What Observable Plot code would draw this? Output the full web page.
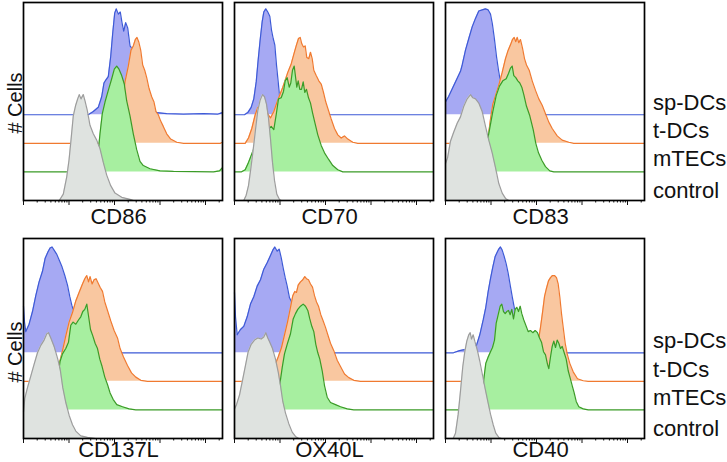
<!DOCTYPE html>
<html>
<head>
<meta charset="utf-8">
<script src="https://cdn.jsdelivr.net/npm/d3@7"></script>
<script src="https://cdn.jsdelivr.net/npm/@observablehq/plot@0.6"></script>
<style>
  html, body { margin: 0; padding: 0; background: #fff; }
  #chart { position: relative; width: 727px; height: 462px; overflow: hidden; background: #fff; }
  #chart svg { position: absolute; background: transparent; max-width: none; }
</style>
</head>
<body>
<div id="chart"></div>
<script>
// ---------- categories ----------
const markers = ["CD86", "CD70", "CD83", "CD137L", "OX40L", "CD40"];
const groups = ["sp-DCs", "t-DCs", "mTECs", "control"];
const offsets = [81, 54, 27, 0];          // baseline offset of each group (% of mode units)
const yLabel = "# Cells";

// ---------- axis ticks (channel units, 4-decade log display) ----------
const decade = 45.5;
const majorTicks = [0, 45.5, 91, 136.5, 182];
const minorFactors = [2, 3, 4, 5, 6, 7, 8, 9];

// ---------- histograms: [channel, % of mode] ----------
const cd86_sp = [[0,0],[64.8,0],[69.8,3],[74.8,7],[78.2,17],[80.5,30],[82.5,33],[84.8,36],[87.2,55],[89.2,77],[91.2,96],[92.8,100],[94.8,95],[96.8,97],[98.5,87],[100.2,79],[102.2,87],[104.2,82],[106.5,65],[109.2,62],[113.2,43],[118.2,22],[124.8,8],[133.2,2],[143.2,1],[160,0.5],[180,1],[194,0.5],[199,2]];
const cd86_t = [[0,0],[83.2,0],[89.8,3],[94.8,14],[98.2,32],[101.5,58],[104.8,73],[107.5,88],[109.8,92],[111.8,98],[113.5,100],[115.2,96],[117.2,88],[119.2,74],[121.2,69],[123.2,62],[125.5,52],[128.2,44],[130.5,39],[132.5,30],[134.8,27],[137.2,21],[139.8,16],[143.2,9],[147.2,4],[153.2,1],[160,0],[197,0],[199,1]];
const cd86_m = [[0,0],[71.5,0],[74.2,14],[76.5,36],[78.8,55],[81.5,66],[84.8,77],[88.2,88],[90.8,97],[93.2,100],[95.5,97],[98.2,91],[100.8,83],[103.2,67],[106.5,53],[109.8,36],[113.2,21],[116.5,10],[119.8,6],[126.5,3],[136.5,1],[150,0.5],[190,0],[196,1],[199,4]];
const cd86_c = [[35.8,0],[39.8,6],[43.2,22],[45.5,38],[47.5,57],[49.8,80],[52.2,90],[54.2,96],[55.8,100],[57.5,96],[59.8,100],[61.8,93],[63.8,85],[66.5,71],[69.8,63],[73.2,57],[76.5,49],[79.8,36],[83.2,24],[87.2,14],[91.5,7],[98.2,3],[106.5,1],[110,0]];

const cd70_sp = [[0,0],[10,0],[13.3,2],[16.7,7],[19.3,15],[21.7,31],[23.7,52],[25.7,71],[27.7,88],[29.3,97],[31.3,100],[33.3,97],[35.3,93],[37,80],[38.7,72],[40.3,66],[42,47],[43.7,31],[45.3,15],[47.3,3],[50,0],[199,0]];
const cd70_t = [[0,0],[10.7,0],[14,5],[17.3,14],[20.7,27],[23.3,34],[26.7,34],[31.7,30],[36,24],[39.3,30],[43.3,41],[48.3,53],[53.3,67],[56.7,75],[59.3,84],[61.7,92],[64,99],[65.7,100],[67.3,94],[69,91],[70.7,92],[72.3,81],[74.3,80],[76,86],[77.7,80],[79.3,69],[81.7,64],[84.3,59],[86.7,56],[89,48],[91.3,39],[94,31],[96.7,23],[100,14],[103.3,8],[106.7,5],[110,7],[113.3,4],[118.3,1],[123.3,0],[199,0]];
const cd70_m = [[0,0],[6.7,0],[10.7,2],[14,9],[17.3,17],[21.7,28],[26.7,35],[31.7,38],[36.7,43],[39.3,40],[41.7,54],[44,69],[46.7,70],[49,76],[50.7,86],[52.7,89],[54.7,80],[56.3,84],[58,96],[59.7,100],[61,90],[62.3,80],[63.7,86],[65.3,78],[67,78],[68.7,85],[70.3,75],[72,78],[74,70],[76,65],[78,56],[80,48],[83.3,35],[86.7,25],[90,18],[94,12],[98.3,6],[103.3,2],[108.3,0],[199,0]];
const cd70_c = [[9.3,0],[11.7,5],[14,14],[16.3,30],[18.7,48],[21,67],[23.3,85],[25.7,95],[28,100],[30,98],[32,91],[34,78],[36,58],[38,36],[40,19],[42.3,6],[45,1],[46.7,0]];

const cd83_sp = [[0,12],[3,17],[7,25],[11,33],[15,41],[16.7,47],[20,61],[23.3,72],[26.7,83],[30,91],[33.3,98],[36.7,99],[40,100],[42.7,99],[45,95],[47,85],[49,71],[51,55],[53,42],[55,31],[58.3,17],[62.3,6],[66.7,0],[199,0]];
const cd83_t = [[0,0],[40,0],[42.7,6],[45,23],[47.3,37],[50,45],[53.3,55],[56.7,67],[60,80],[62.7,88],[65,93],[67,98],[68.7,100],[70.3,96],[71.7,100],[73.3,95],[75,98],[77,90],[79,80],[81,74],[83.7,69],[86.7,59],[90,50],[93.3,42],[96.7,36],[100,28],[103.3,20],[106.7,14],[111.7,7],[116.7,3],[123.3,1],[128.3,0],[199,0]];
const cd83_m = [[0,0],[25,0],[31.7,2],[36.7,10],[40.7,23],[44,40],[47.3,57],[50.7,72],[54,81],[57.3,86],[60.7,88],[63,93],[65,98],[66.7,100],[68.3,91],[70.3,89],[72.3,86],[74.3,84],[76.3,80],[78.3,73],[81,62],[84.3,53],[87.7,40],[90.3,27],[93,18],[96.3,11],[100,5],[104.3,1],[108.3,0],[199,0]];
const cd83_c = [[0,35],[2,40],[5,56],[8,64],[11.7,73],[15,79],[18.3,89],[21.7,96],[25,100],[27.3,97],[30,96],[33.3,92],[36.7,84],[40,70],[43.3,57],[46.7,45],[50,31],[53.3,16],[56.7,7],[60,2],[63.3,0]];

const cd137l_sp = [[0,44],[1,29],[2.3,20],[5.6,27],[9,39],[12.3,54],[15.6,67],[19,77],[21.6,89],[24.3,95],[26.6,99],[28.6,100],[30.6,97],[33.3,93],[36,87],[38.6,81],[41.3,73],[44,64],[46.3,53],[48.3,45],[50.6,38],[54,29],[59,18],[64,8],[70.6,2],[77.3,0],[199,0]];
const cd137l_t = [[0,0],[32.3,0],[35.6,16],[39,29],[42.3,43],[45.6,56],[49,65],[52.3,76],[55.6,84],[59,92],[61.3,97],[63.3,100],[65,94],[66.6,99],[68.6,92],[70.6,96],[72.6,97],[74.6,93],[76.6,89],[79,85],[81.3,75],[84,67],[87.3,57],[90.6,48],[94,41],[96.6,31],[100,23],[104,15],[108,8],[112.3,4],[117.3,1],[124,0],[199,0]];
const cd137l_m = [[0,0],[24,0],[27.3,2],[30.6,11],[34,28],[36.6,46],[39,53],[42.3,58],[45,64],[47.3,80],[49.6,83],[52.3,81],[55,85],[57.3,88],[59.3,93],[61.3,95],[63.3,100],[65,89],[67,76],[69.3,70],[71.6,63],[74,58],[76.3,48],[78.6,41],[81.3,31],[84,24],[86.6,16],[89.6,10],[93.3,5],[99,3],[105.6,1],[112.3,0],[199,0]];
const cd137l_c = [[0,25],[1.3,38],[4,48],[7.3,59],[10.6,70],[14,81],[17.3,88],[20.6,93],[23.3,99],[25,100],[27.3,95],[30.6,87],[34,76],[36.6,66],[39.3,48],[42.3,34],[45.6,22],[49,13],[52.3,7],[57.3,2.5],[64,1],[72.3,0]];

const ox40l_sp = [[0,57],[1,34],[2.7,17],[6,22],[9.3,25],[12.7,34],[16,46],[19.3,53],[22.7,63],[26,69],[29.3,79],[32.7,85],[36,92],[38.3,97],[40.3,100],[42.7,96],[44.7,98],[46.7,90],[48.7,80],[50.7,71],[52.7,63],[55,52],[57.7,47],[62.7,29],[69.3,14],[77.7,3],[86,0],[199,0]];
const ox40l_t = [[0,0],[32.7,0],[37,6],[40.3,15],[43.7,23],[47,32],[50,44],[53,56],[56,70],[58.3,81],[60.3,85],[62,84],[63.7,91],[66,94],[68.3,96],[70.3,99],[72,97],[74,96],[76,92],[78,89],[80,81],[82,75],[84,71],[86.3,63],[88.7,57],[91,51],[93.3,44],[96,36],[99.3,29],[102.7,20],[106,14],[110,7],[114.3,3.5],[119.3,1],[126,0],[199,0]];
const ox40l_m = [[0,0],[34.3,0],[39.3,2],[42.7,10],[45.3,24],[47.7,40],[50,53],[52.7,62],[56,72],[58.7,86],[61,91],[63.3,95],[66,98],[68.7,100],[71,98],[73.3,94],[75.3,86],[77.3,79],[79.3,74],[81.3,62],[83.3,54],[85.3,48],[87.7,37],[90,23],[92.7,12],[96,7],[101,5],[106,3],[112.7,1],[119.3,0],[199,0]];
const ox40l_c = [[0,28],[2,32],[5,41],[8,55],[11,69],[13.7,82],[16.7,89],[20,93],[23.3,95],[26.7,94],[29.3,96],[31.3,100],[33.3,95],[35.3,91],[38,85],[41,75],[43.7,63],[46,50],[48.3,35],[51,24],[54.3,14],[57.7,6],[61,2],[64.3,0]];

const cd40_sp = [[0,0],[8,0],[14,2],[19,3],[24,2],[26,4],[31,7],[34.3,17],[37.7,31],[40.3,43],[42.7,58],[45,70],[47.3,81],[49.7,91],[51.7,95],[53.3,98],[55,100],[56.7,97],[58.7,91],[60.7,84],[62.7,75],[64.7,64],[66.7,53],[69.3,40],[74.3,23],[81,9],[89.3,2],[97.7,0],[199,0]];
const cd40_t = [[0,0],[69.3,0],[77.7,3],[84.3,9],[89.3,21],[92.7,37],[95,51],[97,65],[99,80],[101,88],[103,95],[105,98],[107,100],[109,100],[111,98],[112.7,92],[114.3,80],[116,64],[117.7,51],[119.7,36],[121.7,26],[124.3,17],[127.7,9],[132,2.5],[137.7,0.6],[142.7,0],[199,0]];
const cd40_m = [[0,0],[32.7,0],[36,8],[38.3,29],[40.3,44],[42.7,50],[45,55],[47,59],[49,66],[50.7,82],[52.7,90],[54.7,98],[56.3,100],[58,93],[59.7,91],[61.3,93],[63,94],[64.7,90],[66.3,95],[68,86],[69.7,95],[71.3,97],[73,93],[74.7,98],[76.3,91],[78.3,85],[80.3,80],[82.7,74],[85,75],[87.3,73],[89.7,75],[92,73],[94,68],[96,64],[98,55],[100,52],[102,43],[103.3,39],[105,50],[106.7,60],[108.3,65],[110,59],[111.7,66],[113.3,63],[115,58],[116.7,60],[118.7,54],[120.7,48],[122.7,37],[124.7,30],[126.7,23],[128.7,16],[130.7,8],[133.3,3],[137.7,1],[142.7,0],[199,0]];
const cd40_c = [[7.7,0],[10,5],[12.7,23],[15,45],[17.3,68],[19.3,82],[21.3,92],[23.3,98],[24.7,100],[26,94],[27.7,98],[29.3,92],[31.7,84],[34.3,73],[37,60],[39.7,47],[42.3,35],[45,23],[47.7,13],[50.3,5],[53.3,1],[56,0]];

const panelSeries = [
  [cd86_sp, cd86_t, cd86_m, cd86_c],
  [cd70_sp, cd70_t, cd70_m, cd70_c],
  [cd83_sp, cd83_t, cd83_m, cd83_c],
  [cd137l_sp, cd137l_t, cd137l_m, cd137l_c],
  [ox40l_sp, ox40l_t, ox40l_m, ox40l_c],
  [cd40_sp, cd40_t, cd40_m, cd40_c]
];

// ---------- styling / layout ----------
const lineColors = ["#3d5ad6", "#f07a30", "#3b9b27", "#9d9d9d"];
const fillColors = ["#a6a9f3", "#f9c7a0", "#a7efa0", "#dfe3e0"];
const colLeft = [23, 234, 445];
const rowTop = [2, 238];
const rowH = [198, 200];
const rowYMax = [187, 189];
const panelW = 199;
const M = {top: 2, right: 2, bottom: 9, left: 2};

const minorTicks = majorTicks.flatMap(d => minorFactors.map(k => d + decade * Math.log10(k))).filter(v => v < panelW);

const chart = document.getElementById("chart");

panelSeries.forEach((series, i) => {
  const r = Math.floor(i / 3), c = i % 3;
  const marks = [];
  series.forEach((pts, k) => {
    const data = pts.map(([x, v]) => ({x, base: offsets[k], top: offsets[k] + v}));
    marks.push(Plot.areaY(data, {x: "x", y1: "base", y2: "top", fill: fillColors[k]}));
    marks.push(Plot.line(data, {x: "x", y: "top", stroke: lineColors[k], strokeWidth: 1.2}));
  });
  marks.push(Plot.axisX(majorTicks, {anchor: "bottom", tickSize: 5, text: null, fill: "none", label: null, stroke: "#111", strokeWidth: 1}));
  marks.push(Plot.axisX(minorTicks, {anchor: "bottom", tickSize: 2.5, text: null, fill: "none", label: null, stroke: "#111", strokeWidth: 1}));
  marks.push(Plot.frame({stroke: "#000", strokeWidth: 1.7}));
  const svg = Plot.plot({
    width: panelW + M.left + M.right,
    height: rowH[r] + M.top + M.bottom,
    marginTop: M.top, marginRight: M.right, marginBottom: M.bottom, marginLeft: M.left,
    x: {domain: [0, panelW]},
    y: {domain: [0, rowYMax[r]], axis: null},
    style: {background: "transparent", overflow: "visible"},
    marks
  });
  svg.style.left = (colLeft[c] - M.left) + "px";
  svg.style.top = (rowTop[r] - M.top) + "px";
  chart.appendChild(svg);
});

// ---------- text overlay ----------
const font = "'Liberation Sans', Arial, Helvetica, sans-serif";
const overlay = d3.select(chart).append("svg")
  .attr("width", 727).attr("height", 462)
  .style("left", "0px").style("top", "0px")
  .attr("font-family", font).attr("fill", "#111");

const labelBaseline = [224, 457];
markers.forEach((m, i) => {
  const r = Math.floor(i / 3), c = i % 3;
  overlay.append("text")
    .attr("x", colLeft[c] + 95.5).attr("y", labelBaseline[r])
    .attr("text-anchor", "middle").attr("font-size", 22)
    .text(m);
});

const groupBaselines = [[110, 138, 166, 198], [348, 377, 405, 436]];
groupBaselines.forEach(row => {
  row.forEach((y, k) => {
    overlay.append("text")
      .attr("x", 653).attr("y", y)
      .attr("font-size", 22)
      .text(groups[k]);
  });
});

[103, 352].forEach(cy => {
  overlay.append("text")
    .attr("transform", `translate(22,${cy}) rotate(-90)`)
    .attr("text-anchor", "middle").attr("font-size", 20)
    .text(yLabel);
});
</script>
</body>
</html>
